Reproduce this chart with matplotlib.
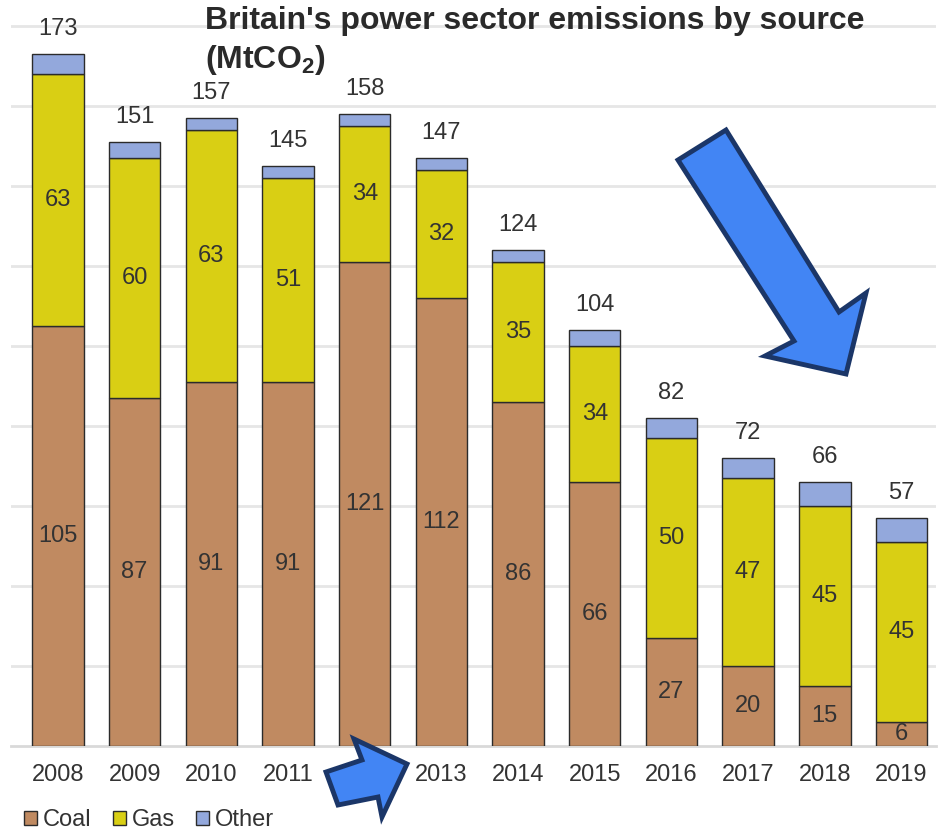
import matplotlib.pyplot as plt
import numpy as np
from matplotlib.patches import Polygon

plt.rcParams["font.family"] = ["Liberation Sans", "DejaVu Sans"]
plt.rcParams["mathtext.fontset"] = "custom"
plt.rcParams["mathtext.rm"] = "Liberation Sans:bold"
plt.rcParams["mathtext.bf"] = "Liberation Sans:bold"

years = ["2008", "2009", "2010", "2011", "2012", "2013",
         "2014", "2015", "2016", "2017", "2018", "2019"]
coal = [105, 87, 91, 91, 121, 112, 86, 66, 27, 20, 15, 6]
gas = [63, 60, 63, 51, 34, 32, 35, 34, 50, 47, 45, 45]
totals = [173, 151, 157, 145, 158, 147, 124, 104, 82, 72, 66, 57]
other = [t - c - g for t, c, g in zip(totals, coal, gas)]

c_coal = "#C08A61"
c_gas = "#D9CF14"
c_other = "#93A8DC"
edge = "#2b2b2b"
txt = "#333333"

W, H = 941, 831
fig = plt.figure(figsize=(W / 100, H / 100), dpi=100)
ax = fig.add_axes([11 / W, 85 / H, 925 / W, 746 / H])

x = np.arange(len(years))
bw = 0.67
ax.bar(x, coal, bw, color=c_coal, edgecolor=edge, linewidth=1, label="Coal", zorder=3)
ax.bar(x, gas, bw, bottom=coal, color=c_gas, edgecolor=edge, linewidth=1, label="Gas", zorder=3)
bot2 = [c + g for c, g in zip(coal, gas)]
ax.bar(x, other, bw, bottom=bot2, color=c_other, edgecolor=edge, linewidth=1, label="Other", zorder=3)

for i in range(len(years)):
    ax.text(x[i], coal[i] / 2, str(coal[i]), ha="center", va="center", fontsize=17, color=txt, zorder=4)
    ax.text(x[i], coal[i] + gas[i] / 2, str(gas[i]), ha="center", va="center", fontsize=17, color=txt, zorder=4)
    ax.annotate(str(totals[i]), (x[i], totals[i]), xytext=(0, 10), textcoords="offset points",
                ha="center", va="bottom", fontsize=17, color=txt)

ax.set_xlim(-0.613, 11.45)
ax.set_ylim(0, 186.5)
ax.set_yticks(np.arange(20, 181, 20))
ax.yaxis.grid(True, color="#E6E6E6", linewidth=2, zorder=0)
ax.set_yticklabels([])
ax.tick_params(axis="y", length=0)
ax.set_xticks(x)
ax.set_xticklabels(years, fontsize=17, color=txt)
ax.tick_params(axis="x", length=0, pad=13)
for s in ["top", "right", "left"]:
    ax.spines[s].set_visible(False)
ax.spines["bottom"].set_color("#D9D9D9")
ax.spines["bottom"].set_linewidth(2)

fig.text(205 / W, 1 - 21 / H, "Britain's power sector emissions by source",
         fontsize=23, fontweight="bold", color="#2a2a2a", ha="left", va="center")
fig.text(205 / W, 1 - 60 / H, r"(MtCO$_\mathbf{2}$)",
         fontsize=23, fontweight="bold", color="#2a2a2a", ha="left", va="center")

fig.legend(loc="center left", bbox_to_anchor=(24 / W, 1 - 820 / H), ncol=3, frameon=False,
           fontsize=17, handlelength=0.55, handleheight=0.55, handletextpad=0.25,
           columnspacing=0.9, borderpad=0, borderaxespad=0, labelcolor=txt)

# decorative arrows (figure pixel coords, y from top)
big_arrow = [(678, 160), (726, 130), (839, 312), (866, 293), (846, 374), (765, 356), (794, 341)]
small_arrow = [(326, 772), (362, 760), (354, 739), (407, 764), (382, 817), (378, 797), (338, 805)]
for pts in (big_arrow, small_arrow):
    p = Polygon([(px / W, 1 - py / H) for px, py in pts], closed=True,
                transform=fig.transFigure, facecolor="#4285F4", edgecolor="#1B3668",
                linewidth=3.5, joinstyle="miter", zorder=10)
    fig.add_artist(p)

fig.savefig("out.png", dpi=100)
